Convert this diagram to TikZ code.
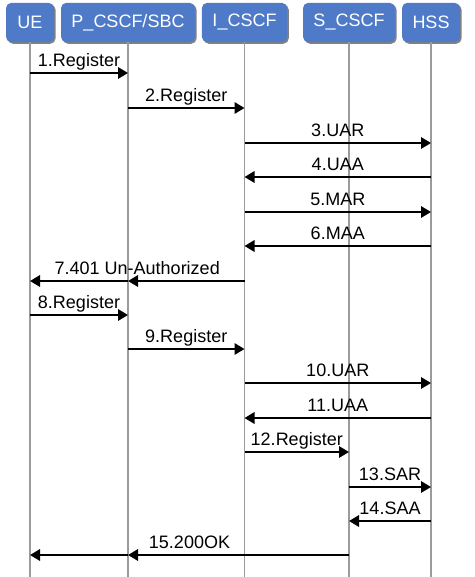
\documentclass[tikz,border=0pt]{standalone}
\usepackage{fontspec}
\setmainfont{Liberation Sans}
\usepackage{xcolor}
\usepackage{tikz}
\usetikzlibrary{arrows.meta, shadows}

\definecolor{boxblue}{RGB}{79,122,200}
\definecolor{lifegray}{RGB}{155,155,155}

\begin{document}
\begin{tikzpicture}[x=0.75pt, y=-0.75pt,
        font=\fontsize{13.5}{16}\selectfont,
        ent/.style={rectangle, rounded corners=4pt, fill=boxblue, text=white,
        minimum height=29.5pt, inner sep=0pt,
        drop shadow={shadow xshift=1.2pt, shadow yshift=-1.2pt, fill=black!70, opacity=0.7}},
        life/.style={draw=lifegray, line width=0.8pt},
        msg/.style={line width=1.6pt, -{Triangle[length=7.5pt, width=8.5pt]}},
        lbl/.style={anchor=base, yshift=5pt, inner sep=0pt}]
        \useasboundingbox (0,0) rectangle (474,577);

        \node[ent, minimum width=36pt] (UE) at (30,22.5) {UE};
        \node[ent, minimum width=100.5pt] (P) at (128,22.5) {P\_CSCF/SBC};
        \node[ent, minimum width=64pt] (I) at (244.5,22.5) {I\_CSCF};
        \node[ent, minimum width=69pt] (S) at (349,22.5) {S\_CSCF};
        \node[ent, minimum width=43.5pt] (HSS) at (431,22.5) {HSS};

        \coordinate (end) at (0,577);
        \draw[life] (UE) -- (UE |- end);
        \draw[life] (P) -- (P |- end);
        \draw[life] (I) -- (I |- end);
        \draw[life] (S) -- (S |- end);
        \draw[life] (HSS) -- (HSS |- end);

        \draw[msg] (UE |- 0,73) -- node[lbl] {1.Register} (P |- 0,73);
        \draw[msg] (P |- 0,108) -- node[lbl] {2.Register} (I |- 0,108);
        \draw[msg] (I |- 0,143) -- node[lbl] {3.UAR} (HSS |- 0,143);
        \draw[msg] (HSS |- 0,177) -- node[lbl] {4.UAA} (I |- 0,177);
        \draw[msg] (I |- 0,212) -- node[lbl] {5.MAR} (HSS |- 0,212);
        \draw[msg] (HSS |- 0,246) -- node[lbl] {6.MAA} (I |- 0,246);
        \draw[msg] (I |- 0,281) -- (P |- 0,281);
        \draw[msg] (P |- 0,281) -- (UE |- 0,281);
        \path (I |- 0,281) -- node[lbl] {7.401 Un-Authorized} (UE |- 0,281);
        \draw[msg] (UE |- 0,315) -- node[lbl] {8.Register} (P |- 0,315);
        \draw[msg] (P |- 0,349) -- node[lbl] {9.Register} (I |- 0,349);
        \draw[msg] (I |- 0,383) -- node[lbl] {10.UAR} (HSS |- 0,383);
        \draw[msg] (HSS |- 0,418) -- node[lbl] {11.UAA} (I |- 0,418);
        \draw[msg] (I |- 0,452) -- node[lbl] {12.Register} (S |- 0,452);
        \draw[msg] (S |- 0,487) -- node[lbl] {13.SAR} (HSS |- 0,487);
        \draw[msg] (HSS |- 0,521) -- node[lbl] {14.SAA} (S |- 0,521);
        \draw[msg] (S |- 0,555) -- (P |- 0,555);
        \draw[msg] (P |- 0,555) -- (UE |- 0,555);
        \path (S |- 0,555) -- node[lbl] {15.200OK} (UE |- 0,555);
    \end{tikzpicture}
\end{document}
